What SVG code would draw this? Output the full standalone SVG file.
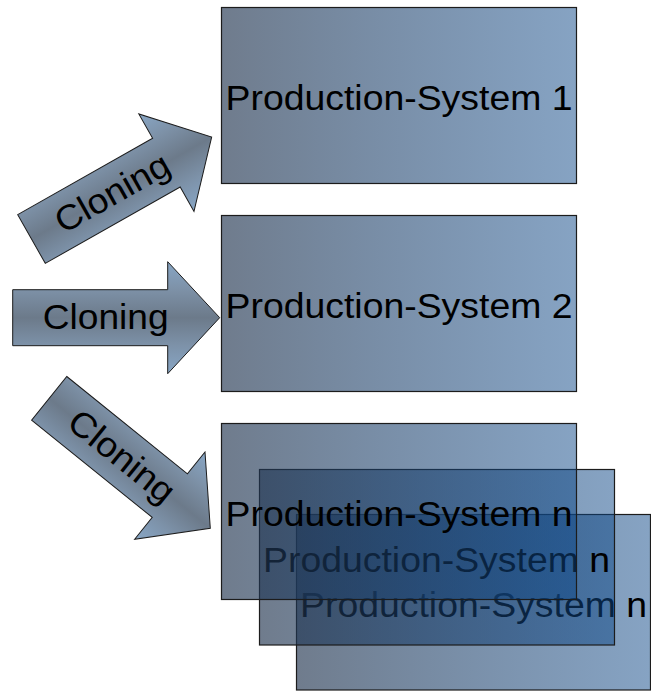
<svg xmlns="http://www.w3.org/2000/svg" xmlns:xlink="http://www.w3.org/1999/xlink" width="651" height="691" viewBox="0 0 651 691">
  <defs>
    <linearGradient id="boxGrad" x1="0" y1="0" x2="1" y2="0">
      <stop offset="0" stop-color="rgb(34,53,79)" stop-opacity="0.65"/>
      <stop offset="1" stop-color="rgb(13,71,135)" stop-opacity="0.5"/>
    </linearGradient>
    <linearGradient id="arrowGrad" x1="0" y1="0" x2="0" y2="1">
      <stop offset="0" stop-color="#88a6c5"/>
      <stop offset="0.25" stop-color="#7d91a7"/>
      <stop offset="0.5" stop-color="#6c7a8a"/>
      <stop offset="0.75" stop-color="#7d92a9"/>
      <stop offset="1" stop-color="#88a6c5"/>
    </linearGradient>
    <path id="blockArrow" d="M0,-28 H155 V-56 L207,0 L155,56 V28 H0 Z"/>
  </defs>
  <style>
    .box { fill: url(#boxGrad); stroke: #1c1c1c; stroke-width: 1.2; }
    .arrow { fill: url(#arrowGrad); stroke: #1c1c1c; stroke-width: 1; }
    .lbl { font-family: "Liberation Sans", Arial, sans-serif; font-size: 35px; fill: #000; }
    .alb { font-family: "Liberation Sans", Arial, sans-serif; font-size: 35px; fill: #000; }
  </style>

  <g id="connectors">
    <g id="arrow1" transform="translate(31.5,239) rotate(-29.5)">
      <use xlink:href="#blockArrow" class="arrow"/>
      <text class="alb" x="30" y="11.5" textLength="126" lengthAdjust="spacingAndGlyphs">Cloning</text>
    </g>
    <g id="arrow2" transform="translate(12.7,317.7)">
      <use xlink:href="#blockArrow" class="arrow"/>
      <text class="alb" x="30" y="11.5" textLength="126" lengthAdjust="spacingAndGlyphs">Cloning</text>
    </g>
    <g id="arrow3" transform="translate(49.2,398.3) rotate(38.9)">
      <use xlink:href="#blockArrow" class="arrow"/>
      <text class="alb" x="30" y="11.5" textLength="126" lengthAdjust="spacingAndGlyphs">Cloning</text>
    </g>
  </g>

  <g id="ps1">
    <rect class="box" x="221.5" y="7.5" width="355" height="176"/>
    <text class="lbl" x="225.5" y="109.5" textLength="347" lengthAdjust="spacingAndGlyphs">Production-System 1</text>
  </g>
  <g id="ps2">
    <rect class="box" x="221.5" y="215.5" width="355" height="176"/>
    <text class="lbl" x="225.5" y="317.5" textLength="347" lengthAdjust="spacingAndGlyphs">Production-System 2</text>
  </g>
  <g id="psn3">
    <rect class="box" x="296.5" y="514.5" width="354" height="175.5"/>
    <text class="lbl" x="300" y="616.5" textLength="347" lengthAdjust="spacingAndGlyphs">Production-System n</text>
  </g>
  <g id="psn2">
    <rect class="box" x="259.5" y="469.5" width="355" height="175.5"/>
    <text class="lbl" x="263" y="571.5" textLength="347" lengthAdjust="spacingAndGlyphs">Production-System n</text>
  </g>
  <g id="psn">
    <rect class="box" x="221.5" y="423.5" width="355" height="176"/>
    <text class="lbl" x="225.5" y="525.5" textLength="347" lengthAdjust="spacingAndGlyphs">Production-System n</text>
  </g>
</svg>
